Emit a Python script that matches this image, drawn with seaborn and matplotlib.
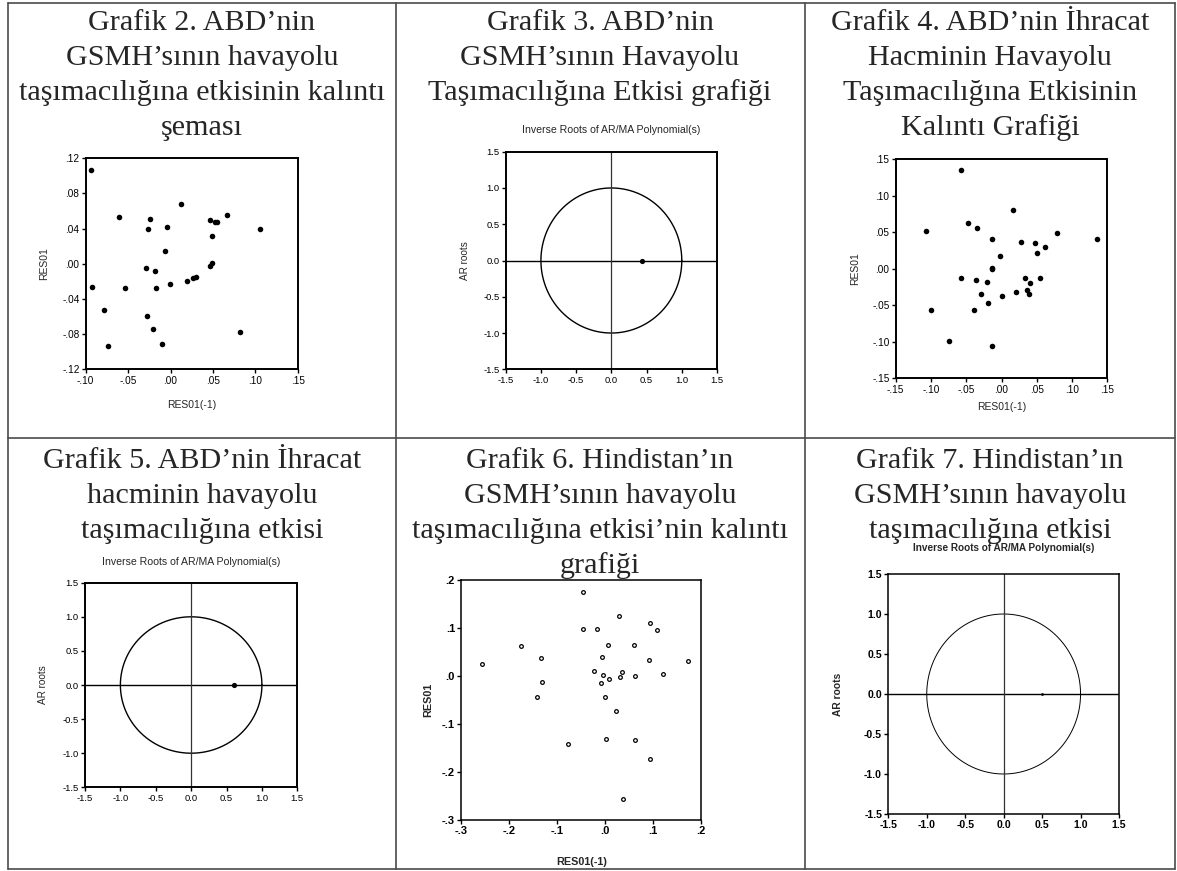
import numpy as np
import seaborn as sns
import matplotlib
matplotlib.use("Agg")
import matplotlib.pyplot as plt
from matplotlib.lines import Line2D
from matplotlib.ticker import FuncFormatter, MultipleLocator

# Grafik 2: ABD GSMH residuals, RES01 vs RES01(-1)
g2_lag = [-0.094, -0.061, -0.024, -0.027, -0.004, 0.012, 0.046, 0.052, 0.055, 0.067,
          0.106, 0.049, -0.006, -0.029, -0.018, 0.049, 0.046, -0.092, -0.054, -0.017,
          -0.001, 0.020, 0.027, 0.030, -0.079, -0.028, -0.021, -0.074, -0.010, 0.082]
g2_res = [0.107, 0.053, 0.051, 0.040, 0.042, 0.068, 0.050, 0.048, 0.048, 0.056,
          0.040, 0.032, 0.014, -0.005, -0.008, 0.001, -0.003, -0.026, -0.028, -0.027,
          -0.023, -0.019, -0.016, -0.015, -0.053, -0.059, -0.074, -0.093, -0.091, -0.078]

# Grafik 4: ABD ihracat residuals
g4_lag = [-0.058, -0.107, -0.048, -0.035, 0.017, -0.014, 0.028, 0.048, 0.079, 0.136,
          0.062, 0.050, -0.002, -0.014, -0.014, -0.058, -0.036, -0.020, -0.029, 0.000,
          0.020, 0.034, 0.055, 0.040, 0.036, 0.039, -0.019, -0.039, -0.100, -0.075, -0.014]
g4_res = [0.135, 0.051, 0.062, 0.056, 0.080, 0.041, 0.036, 0.035, 0.049, 0.040,
          0.029, 0.021, 0.017, 0.001, -0.001, -0.013, -0.015, -0.018, -0.034, -0.038,
          -0.032, -0.013, -0.013, -0.019, -0.029, -0.035, -0.047, -0.057, -0.057, -0.099, -0.106]

# Grafik 6: Hindistan GSMH residuals
g6_lag = [-0.257, -0.176, -0.133, -0.132, -0.143, -0.077, -0.047, -0.047, -0.018, 0.028,
          0.006, 0.059, 0.094, 0.107, -0.006, -0.024, -0.004, 0.007, -0.009, 0.034,
          0.030, 0.062, 0.091, 0.121, 0.173, 0.000, 0.022, 0.001, 0.061, 0.094, 0.036]
g6_res = [0.024, 0.061, 0.036, -0.014, -0.044, -0.142, 0.175, 0.097, 0.097, 0.124,
          0.065, 0.063, 0.110, 0.095, 0.038, 0.010, 0.002, -0.006, -0.015, 0.008,
          -0.003, -0.001, 0.033, 0.003, 0.031, -0.044, -0.074, -0.132, -0.133, -0.174, -0.257]

# inverse AR roots (real, imaginary)
g3_root = ([0.44], [0.0])
g5_root = ([0.61], [0.0])
g7_root = ([0.50], [0.0])

titles = [
    (202, 30, ["Grafik 2. ABD’nin", "GSMH’sının havayolu", "taşımacılığına etkisinin kalıntı", "şeması"]),
    (600, 30, ["Grafik 3. ABD’nin", "GSMH’sının Havayolu", "Taşımacılığına Etkisi grafiği"]),
    (990, 30, ["Grafik 4. ABD’nin İhracat", "Hacminin Havayolu", "Taşımacılığına Etkisinin", "Kalıntı Grafiği"]),
    (202, 468, ["Grafik 5. ABD’nin İhracat", "hacminin havayolu", "taşımacılığına etkisi"]),
    (600, 468, ["Grafik 6. Hindistan’ın", "GSMH’sının havayolu", "taşımacılığına etkisi’nin kalıntı", "grafiği"]),
    (990, 468, ["Grafik 7. Hindistan’ın", "GSMH’sının havayolu", "taşımacılığına etkisi"]),
]

sns.set_style("ticks")
plt.rcParams['font.family'] = ['Liberation Sans', 'DejaVu Sans']

W, H = 1177, 871
fig = plt.figure(figsize=(W / 100, H / 100), dpi=100)
fig.patch.set_facecolor("white")


def px_axes(x0, y0, x1, y1):
  return fig.add_axes([x0 / W, 1 - y1 / H, (x1 - x0) / W, (y1 - y0) / H])


def dotless(decimals):
  def fmt(v, pos):
    s = f"{v:.{decimals}f}"
    return s.replace("0.", ".", 1) if s.lstrip("-").startswith("0.") else s
  return FuncFormatter(fmt)


def style_box(ax, lw, tick_size, bold=False):
  for sp in ax.spines.values():
    sp.set_linewidth(lw)
    sp.set_color("black")
  ax.tick_params(direction="out", length=3, width=1, labelsize=tick_size, pad=1.5,
                 top=False, right=False, colors="black")
  if bold:
    for lab in ax.get_xticklabels() + ax.get_yticklabels():
      lab.set_fontweight("bold")


def px_label(ax, box, text, x=None, y=None, size=7.5, bold=False, rot=0):
  x0, y0, x1, y1 = box
  fx = 0.5 if x is None else (x - x0) / (x1 - x0)
  fy = 0.5 if y is None else (y1 - y) / (y1 - y0)
  ax.text(fx, fy, text, transform=ax.transAxes, ha="center", va="center",
          rotation=rot, fontsize=size, fontweight="bold" if bold else "normal")


def residual_panel(box, xs, ys, lim, step, dec, xlab_y, ylab_x, ms, bold=False,
                   hollow=False, tick_size=7.2, lab_size=7.5, lw=1.4):
  ax = px_axes(*box)
  if hollow:
    sns.scatterplot(x=xs, y=ys, ax=ax, s=ms, facecolor="white", edgecolor="black",
                    linewidth=0.9, marker="o")
  else:
    sns.scatterplot(x=xs, y=ys, ax=ax, s=ms, color="black", linewidth=0)
  ax.set_xlim(lim[0])
  ax.set_ylim(lim[1])
  ax.xaxis.set_major_locator(MultipleLocator(step[0]))
  ax.yaxis.set_major_locator(MultipleLocator(step[1]))
  ax.xaxis.set_major_formatter(dotless(dec))
  ax.yaxis.set_major_formatter(dotless(dec))
  style_box(ax, lw, tick_size, bold)
  px_label(ax, box, "RES01(-1)", y=xlab_y, size=lab_size, bold=bold)
  px_label(ax, box, "RES01", x=ylab_x, size=lab_size, bold=bold, rot=90)
  return ax


def root_panel(box, root, title_y, ylab_x, ms, bold=False, tick_size=6.8,
               lab_size=7.2, lw=1.4, circ_lw=1.0):
  ax = px_axes(*box)
  theta = np.linspace(0, 2 * np.pi, 361)
  sns.lineplot(x=np.cos(theta), y=np.sin(theta), sort=False, estimator=None,
               ax=ax, color="black", linewidth=circ_lw)
  ax.axhline(0, color="black", linewidth=1.0)
  ax.axvline(0, color="#333333", linewidth=0.9)
  sns.scatterplot(x=root[0], y=root[1], ax=ax, s=ms, color="black", linewidth=0, zorder=5)
  ax.set_xlim(-1.5, 1.5)
  ax.set_ylim(-1.5, 1.5)
  ax.xaxis.set_major_locator(MultipleLocator(0.5))
  ax.yaxis.set_major_locator(MultipleLocator(0.5))
  ax.xaxis.set_major_formatter(FuncFormatter(lambda v, p: f"{v:.1f}".replace("−", "-")))
  ax.yaxis.set_major_formatter(FuncFormatter(lambda v, p: f"{v:.1f}".replace("−", "-")))
  style_box(ax, lw, tick_size, bold)
  px_label(ax, box, "AR roots", x=ylab_x, size=lab_size, bold=bold, rot=90)
  px_label(ax, box, "Inverse Roots of AR/MA Polynomial(s)", y=title_y,
           size=7.6 if not bold else 7.2, bold=bold)
  return ax


b1 = (85.7, 158.3, 297.7, 369.3)
residual_panel(b1, g2_lag, g2_res, ((-0.10, 0.15), (-0.12, 0.12)), (0.05, 0.04), 2,
               405, 44, 16)

b2 = (505.7, 151.7, 717.0, 369.3)
root_panel(b2, g3_root, 130, 465, 14)

b3 = (895.7, 159.0, 1107.3, 378.3)
residual_panel(b3, g4_lag, g4_res, ((-0.15, 0.15), (-0.15, 0.15)), (0.05, 0.05), 2,
               407, 855, 16)

b4 = (85.0, 582.7, 297.3, 787.3)
root_panel(b4, g5_root, 562, 43, 14)

b5 = (461.3, 579.7, 701.3, 819.7)
residual_panel(b5, g6_lag, g6_res, ((-0.3, 0.2), (-0.3, 0.2)), (0.1, 0.1), 1,
               862, 428, 7, bold=True, hollow=True, tick_size=8, lab_size=7.8, lw=1.1)

b6 = (888.3, 574.0, 1119.0, 814.0)
root_panel(b6, g7_root, 548, 838, 4, bold=True, tick_size=7.6, lab_size=7.4, lw=1.1,
           circ_lw=0.7)

# table lines
grid_col = "#4a4a4a"
for x in (8, 396, 805, 1175):
  fig.add_artist(Line2D([x / W, x / W], [1 - 3 / H, 1 - 869 / H], color=grid_col, lw=1.2))
for y in (3, 438, 869):
  fig.add_artist(Line2D([8 / W, 1175 / W], [1 - y / H, 1 - y / H], color=grid_col, lw=1.2))

for cx, base, lines in titles:
  for i, line in enumerate(lines):
    fig.text(cx / W, 1 - (base + 35 * i) / H, line, ha="center", va="baseline",
             fontsize=21.7, family=["Liberation Serif", "DejaVu Serif"])

fig.savefig("out.png", dpi=100)
